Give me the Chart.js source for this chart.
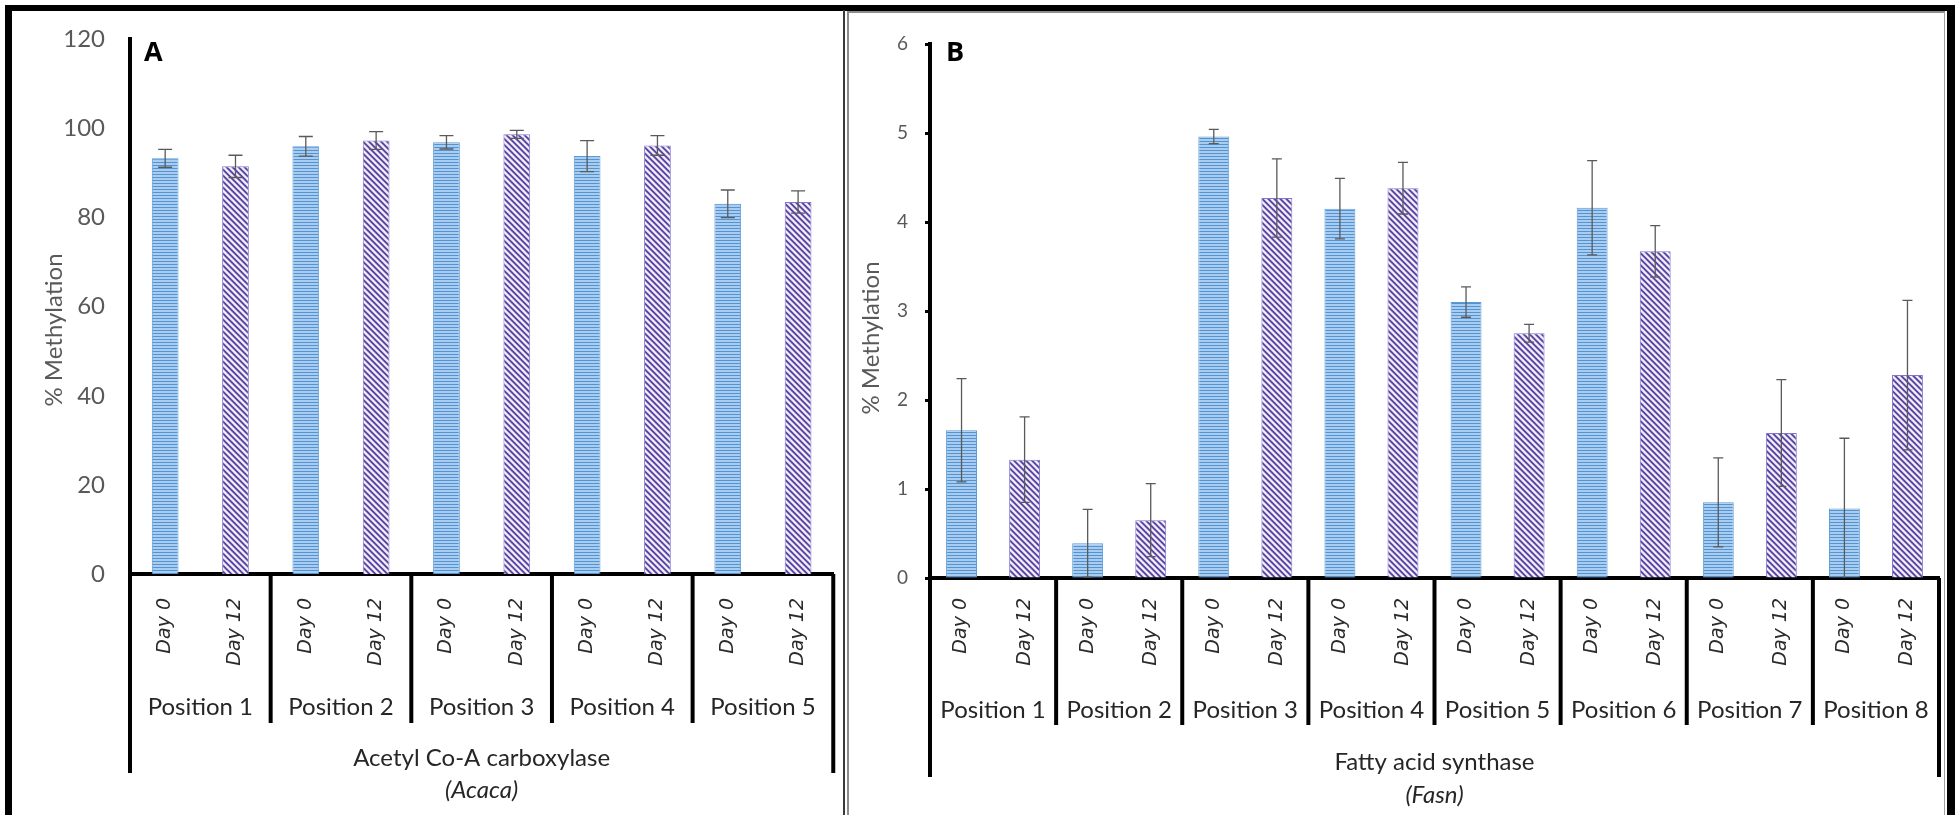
<!DOCTYPE html>
<html>
<head>
<meta charset="utf-8">
<script src="https://cdn.jsdelivr.net/npm/chart.js@4.4.0/dist/chart.umd.min.js"></script>
<style>
  html, body { margin: 0; padding: 0; background: #fff; }
  body { width: 1957px; height: 815px; position: relative; overflow: hidden; }
  #frame { position: absolute; left: 5px; top: 5px; width: 1950px; height: 830px; box-sizing: border-box;
           border-left: 7px solid #000; border-top: 6px solid #000; border-right: 8px solid #000; }
  #split { position: absolute; left: 843px; top: 10px; width: 2px; height: 820px; background: #3a3a3a; }
  #innerB { position: absolute; left: 847px; top: 11px; width: 1098px; height: 820px; box-sizing: border-box;
            border-left: 2px solid #8c8c8c; border-top: 2px solid #8c8c8c; border-right: 1px solid #a0a0a0; }
  canvas { position: absolute; top: 0; }
  #chartA { left: 0; }
  #chartB { left: 848px; }
</style>
</head>
<body>
<div id="frame"></div>
<div id="split"></div>
<div id="innerB"></div>
<canvas id="chartA" width="845" height="815"></canvas>
<canvas id="chartB" width="1109" height="815"></canvas>
<script>
// Day labels under each bar
const dayLabels = ['Day 0', 'Day 12'];

// Panel A: Acetyl Co-A carboxylase (Acaca)
const acacaPositions = ['Position 1', 'Position 2', 'Position 3', 'Position 4', 'Position 5'];
const acacaMeans = [93.3, 91.5, 96.0, 97.3, 96.9, 98.7, 93.8, 96.2, 83.1, 83.5];
const acacaErrors = [2.0, 2.5, 2.2, 2.0, 1.5, 0.9, 3.5, 2.2, 3.1, 2.5];

// Panel B: Fatty acid synthase (Fasn)
const fasnPositions = ['Position 1', 'Position 2', 'Position 3', 'Position 4',
                       'Position 5', 'Position 6', 'Position 7', 'Position 8'];
const fasnMeans = [1.66, 1.33, 0.39, 0.65, 4.96, 4.27, 4.15, 4.38,
                   3.10, 2.75, 4.16, 3.67, 0.85, 1.63, 0.78, 2.28];
const fasnErrors = [0.58, 0.48, 0.38, 0.41, 0.08, 0.44, 0.34, 0.29,
                    0.17, 0.10, 0.53, 0.29, 0.50, 0.60, 0.79, 0.84];

// horizontal-line fill (Day 0)
function lineFill(ctx) {
    const c = document.createElement('canvas');
    c.width = 1; c.height = 3;
    const g = c.getContext('2d');
    g.fillStyle = '#a9cdf0'; g.fillRect(0, 0, 1, 3);
    g.fillStyle = '#5592d0'; g.fillRect(0, 0, 1, 1);
    return ctx.createPattern(c, 'repeat');
}

// diagonal hatch fill (Day 12)
function hatchFill(ctx) {
    const n = 6;
    const c = document.createElement('canvas');
    c.width = n; c.height = n;
    const g = c.getContext('2d');
    const shades = ['#574a9f', '#574a9f', '#a79ddb', '#fbf0fa', '#f6e8f6', '#c4b9e6'];
    for (let y = 0; y < n; y++) {
        for (let x = 0; x < n; x++) {
            g.fillStyle = shades[((y - x) % n + n) % n];
            g.fillRect(x, y, 1, 1);
        }
    }
    return ctx.createPattern(c, 'repeat');
}

// error bars, position groups, gene name, axis title, panel letter
const groupPlugin = {
    id: 'groups',
    afterDatasetsDraw(chart, args, o) {
        const ctx = chart.ctx, xs = chart.scales.x, ys = chart.scales.y;
        const means = chart.data.datasets[0].data;
        ctx.save();
        ctx.strokeStyle = '#5a5a5a';
        ctx.lineWidth = 1.3;
        means.forEach((m, i) => {
            const x = xs.getPixelForValue(i);
            const lo = m - o.errors[i];
            const yT = ys.getPixelForValue(m + o.errors[i]);
            const yB = ys.getPixelForValue(Math.max(0, lo));
            ctx.beginPath();
            ctx.moveTo(x, yT); ctx.lineTo(x, yB);
            ctx.moveTo(x - o.cap / 2, yT); ctx.lineTo(x + o.cap / 2, yT);
            if (lo > 0) { ctx.moveTo(x - o.cap / 2, yB); ctx.lineTo(x + o.cap / 2, yB); }
            ctx.stroke();
        });
        ctx.restore();
    },
    afterDraw(chart, args, o) {
        const ctx = chart.ctx, xs = chart.scales.x, area = chart.chartArea;
        const n = chart.data.labels.length;
        ctx.save();
        ctx.strokeStyle = '#000';
        ctx.lineWidth = 4;
        const edges = [area.left];
        for (let k = 2; k < n; k += 2) {
            edges.push((xs.getPixelForValue(k - 1) + xs.getPixelForValue(k)) / 2);
        }
        edges.push(area.right);
        edges.forEach((x, k) => {
            const outer = k === 0 || k === edges.length - 1;
            ctx.beginPath();
            ctx.moveTo(x, area.bottom);
            ctx.lineTo(x, outer ? o.outerBottom : o.innerBottom);
            ctx.stroke();
        });
        ctx.fillStyle = '#262626';
        ctx.textAlign = 'center';
        ctx.textBaseline = 'middle';
        ctx.font = '24px Lato';
        o.positions.forEach((p, k) => {
            ctx.fillText(p, (edges[k] + edges[k + 1]) / 2, o.posY);
        });
        const mid = (area.left + area.right) / 2;
        ctx.fillText(o.gene, mid, o.geneY);
        ctx.font = 'italic 24px Lato';
        ctx.fillText(o.symbol, mid, o.symbolY);

        // y axis title
        ctx.save();
        ctx.translate(o.titleX, o.titleY);
        ctx.rotate(-Math.PI / 2);
        ctx.fillStyle = '#595959';
        ctx.font = '24px Lato';
        ctx.fillText('% Methylation', 0, 0);
        ctx.restore();

        ctx.fillStyle = '#000';
        ctx.textAlign = 'left';
        ctx.textBaseline = 'alphabetic';
        ctx.font = 'bold 27px "Open Sans"';
        ctx.fillText(o.letter, o.letterX, o.letterY);
        ctx.restore();
    }
};

function makeChart(id, means, opts) {
    const canvas = document.getElementById(id);
    const ctx = canvas.getContext('2d');
    const day0 = lineFill(ctx), day12 = hatchFill(ctx);
    const labels = means.map((_, i) => dayLabels[i % 2]);
    return new Chart(canvas, {
        type: 'bar',
        data: {
            labels: labels,
            datasets: [{
                data: means,
                backgroundColor: means.map((_, i) => i % 2 ? day12 : day0),
                borderColor: means.map((_, i) => i % 2 ? '#7f78cc' : '#5b9bd5'),
                borderWidth: 1,
                barPercentage: opts.barPct,
                categoryPercentage: 1
            }]
        },
        options: {
            responsive: false,
            animation: false,
            layout: { padding: { left: 0, right: opts.padRight, top: opts.padTop, bottom: 0 } },
            plugins: {
                legend: { display: false },
                tooltip: { enabled: false },
                groups: opts.groups
            },
            scales: {
                x: {
                    grid: { display: false, drawTicks: false },
                    border: { color: '#000', width: 4 },
                    ticks: {
                        minRotation: 90, maxRotation: 90, autoSkip: false,
                        padding: opts.dayPad, color: '#2b2b2b',
                        font: { family: 'DejaVu Sans', style: 'italic', size: 19 }
                    },
                    afterFit: s => { s.height = opts.xHeight; }
                },
                y: {
                    min: 0, max: opts.yMax,
                    ticks: {
                        stepSize: opts.step, padding: opts.tickPad, color: '#595959',
                        font: { family: 'Lato', size: opts.tickSize }
                    },
                    grid: opts.yGrid,
                    border: { color: '#000', width: 4 },
                    afterFit: s => { s.width = opts.yWidth; }
                }
            }
        },
        plugins: [groupPlugin]
    });
}

function drawAll() {
    makeChart('chartA', acacaMeans, {
        barPct: 0.38, padRight: 2, padTop: 33, xHeight: 241, dayPad: 24,
        yMax: 120, step: 20, tickPad: 25, tickSize: 24, yWidth: 130,
        yGrid: { display: false, drawTicks: false },
        groups: {
            errors: acacaErrors, cap: 14, positions: acacaPositions,
            gene: 'Acetyl Co-A carboxylase', symbol: '(Acaca)',
            innerBottom: 723, outerBottom: 773, posY: 707, geneY: 758, symbolY: 790,
            titleX: 54, titleY: 330,
            letter: 'A', letterX: 144, letterY: 61
        }
    });
    makeChart('chartB', fasnMeans, {
        barPct: 0.49, padRight: 18, padTop: 44, xHeight: 237, dayPad: 20,
        yMax: 6, step: 1, tickPad: 17, tickSize: 19, yWidth: 82,
        yGrid: { display: true, drawOnChartArea: false, drawTicks: true, tickLength: 5,
                 tickWidth: 3, tickColor: '#000', color: '#000' },
        groups: {
            errors: fasnErrors, cap: 10, positions: fasnPositions,
            gene: 'Fatty acid synthase', symbol: '(Fasn)',
            innerBottom: 725, outerBottom: 777, posY: 710, geneY: 762, symbolY: 795,
            titleX: 23, titleY: 338,
            letter: 'B', letterX: 98, letterY: 61
        }
    });
}

Promise.all([
    document.fonts.load('24px Lato'),
    document.fonts.load('italic 24px Lato'),
    document.fonts.load('italic 19px "DejaVu Sans"'),
    document.fonts.load('bold 27px "Open Sans"')
]).then(drawAll, drawAll);
</script>
</body>
</html>
